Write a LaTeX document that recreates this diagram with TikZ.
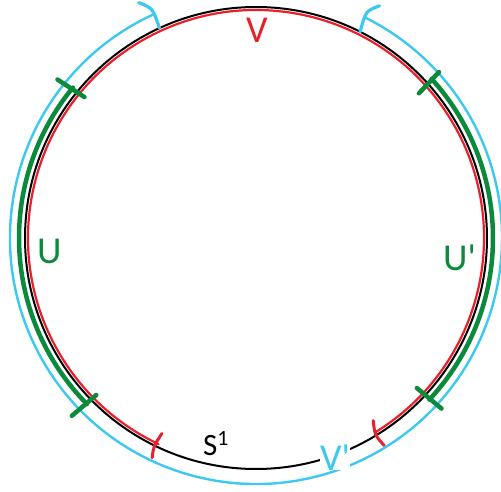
\documentclass[tikz,border=0pt]{standalone}
\usepackage{fontspec}
\setmainfont{Carlito}
\newfontfamily\labfont{Carlito}
\usetikzlibrary{calc}
\definecolor{cred}{HTML}{E8202A}
\definecolor{cgreen}{HTML}{0A8A3A}
\definecolor{cblue}{HTML}{3CC8F0}
\begin{document}
\begin{tikzpicture}[x=1pt,y=1pt,
  blackline/.style={black,line width=2pt},
  redline/.style={cred,line width=2.2pt,line cap=round},
  redtick/.style={cred,line width=3pt,line cap=round},
  greenline/.style={cgreen,line width=4.5pt,line cap=round},
  greentick/.style={cgreen,line width=4.5pt,line cap=round},
  blueline/.style={cblue,line width=2.4pt,line cap=round},
  bluetick/.style={cblue,line width=3.2pt,line cap=round},
  lab/.style={inner sep=0pt,anchor=base west,font=\labfont\fontsize{38}{40}\selectfont}]
\useasboundingbox (0,0) rectangle (501,491);
\coordinate (c) at (256,253);
% circle S^1
\draw[blackline] (c) circle[radius=231];
% V (red)
\draw[redline] ($(c)+(-58.5:228)$) arc[start angle=-58.5,end angle=244.7,radius=228];
\draw[redtick] ($(c)+(244.7:243)$) .. controls ($(c)+(243.8:232)$) .. ($(c)+(244.3:217)$);
\draw[redtick] ($(c)+(-57.3:217)$) .. controls ($(c)+(-58.9:230)$) .. ($(c)+(-58.3:244)$);
% V' (blue)
\draw[blueline] ($(c)+(114.9:246)$) arc[start angle=114.9,end angle=423.6,radius=246];
\draw[bluetick] ($(c)+(114.7:231)$) .. controls ($(c)+(114.2:252)$) .. ($(c)+(116.5:263)$);
\draw[bluetick] ($(c)+(63.2:231)$) .. controls ($(c)+(64.2:252)$) .. ($(c)+(62.0:263)$);
% U (green, left)
\draw[greenline] ($(c)+(140.6:237)$) arc[start angle=140.6,end angle=224.5,radius=237];
\draw[greentick] ($(c)+(140.6:222)$) -- ($(c)+(141.4:254)$);
\draw[greentick] ($(c)+(224.5:224)$) -- ($(c)+(224:256)$);
% U' (green, right)
\draw[greenline] ($(c)+(-43:237)$) arc[start angle=-43,end angle=42.2,radius=237];
\draw[greentick] ($(c)+(41.6:218)$) -- ($(c)+(42.2:247)$);
\draw[greentick] ($(c)+(-43:220)$) -- ($(c)+(-42.6:252)$);
% labels
\node[lab,text=cred] (lv) at (246,448) {V};
\node[lab,text=cgreen] (lu) at (37,228) {U};
\node[lab,text=cgreen] (lup) at (443,221) {U'};
\node[lab,text=black,font=\labfont\fontsize{31}{33}\selectfont] (ls) at (203,36) {S\textsuperscript{1}};
\node[lab,text=cblue,fill=white] (lvp) at (320,21) {V'};
\end{tikzpicture}
\end{document}
